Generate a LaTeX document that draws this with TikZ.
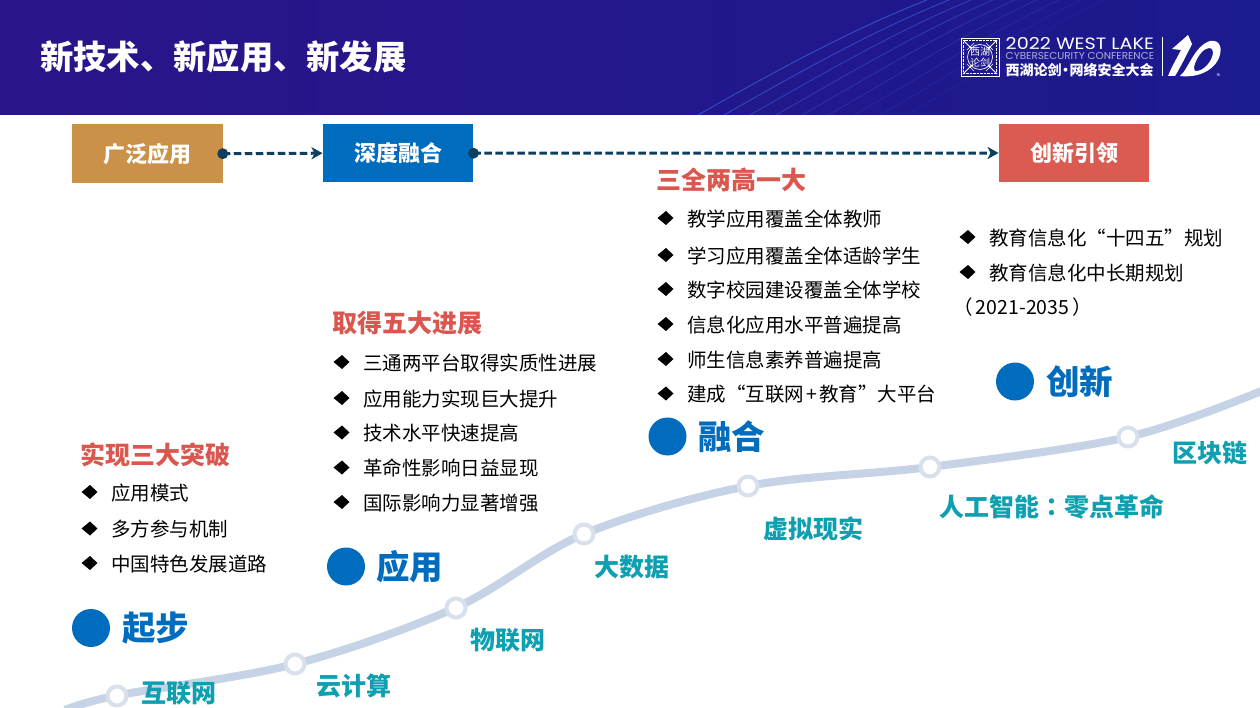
\documentclass[tikz,border=0pt]{standalone}
\usepackage{fontspec}
\usetikzlibrary{arrows.meta,shadings}
\setmainfont{Noto Sans CJK SC}
\newfontfamily\tcfont{Noto Sans CJK TC}
\newfontfamily\logofont{Poppins}
\definecolor{hdrL}{HTML}{2A1489}
\definecolor{hdrR}{HTML}{1B1A8E}
\definecolor{hdrLine}{HTML}{3F5FE0}
\definecolor{conn}{HTML}{0E3F5E}
\definecolor{blueS}{HTML}{006CBD}
\definecolor{redH}{HTML}{D9574F}
\definecolor{tealT}{HTML}{0E9FB0}
\definecolor{curveC}{HTML}{C6D2E5}
\definecolor{ringC}{HTML}{D8E0EC}
\definecolor{ochre}{HTML}{CC9148}
\definecolor{redB}{HTML}{DA5B52}
\tikzset{
 x=1pt,y=-1pt,
 stagebox/.style={minimum width=150.5pt,minimum height=58.5pt,inner sep=0,text=white,font=\fontsize{22}{24}\selectfont\bfseries},
 flow/.style={conn,line width=3pt,dash pattern=on 7.5pt off 3.5pt,-{Stealth[length=11pt,width=12pt,conn,inset=3pt]}},
 flowdot/.style={circle,fill=conn,minimum size=11pt,inner sep=0},
 heading/.style={anchor=west,inner sep=0,text=redH,font=\fontsize{25}{27}\selectfont\bfseries},
 bullet/.style={anchor=west,inner sep=0,text=black,font=\fontsize{19.5}{22}\selectfont},
 dot/.style={circle,fill=blueS,minimum size=38pt,inner sep=0},
 stagelabel/.style={anchor=west,inner sep=0,text=blueS,font=\fontsize{33.5}{36}\selectfont\bfseries},
 tech/.style={anchor=west,inner sep=0,text=tealT,font=\fontsize{25}{27}\selectfont\bfseries},
 ring/.style={circle,fill=white,draw=ringC,line width=4pt,minimum size=19pt,inner sep=0},
 logotext/.style={anchor=west,inner sep=0,text=white},
}
\newcommand{\bul}[3]{\fill (#1-8.5,#2) -- (#1,#2-7) -- (#1+7.5,#2) -- (#1,#2+7) -- cycle;
 \node[bullet] at (#1+21,#2+.8) {#3};}
\begin{document}
\begin{tikzpicture}
\useasboundingbox (0,0) rectangle (1260,708);
\fill[white] (0,0) rectangle (1260,708);
% header
\shade[left color=hdrL,right color=hdrR] (0,0) rectangle (1260,115);
\begin{scope}
\clip (0,0) rectangle (1260,115);
\foreach \i/\o in {0/.75,1/.65,2/.55,3/.45,4/.36,5/.28,6/.2,7/.14,8/.1}{
 \draw[hdrLine,opacity=\o,line width=.9pt] (698+26*\i,115) .. controls (770+26*\i,74) and (850+24*\i,30) .. (927+22*\i,0);
}
\end{scope}
\node[anchor=west,inner sep=0,text=white,font=\fontsize{33.3}{36}\selectfont\bfseries] (title) at (40,56.5) {新技术、新应用、新发展};
% logo
\draw[white,line width=.8pt] (961,38) rectangle (999,76);
\draw[white,line width=.5pt,dash pattern=on .8pt off .6pt] (963.5,40.5) rectangle (996.5,73.5);
\draw[white,line width=1pt] (963,40) -- (972,49) (997,40) -- (988,49) (963,74) -- (972,65) (997,74) -- (988,65);
\draw[white,line width=.5pt] (967,50) -- (974,43) (993,50) -- (986,43) (967,64) -- (974,71) (993,64) -- (986,71);
\draw[white,line width=.7pt] (980,57) circle (12.5);
\node[inner sep=0,text=white,font=\fontsize{10}{10}\selectfont] (seal) at (980,57) {\shortstack{西湖\\[-1pt]论剑}};
\node[logotext,xscale=1.17,font=\logofont\fontsize{16.4}{17}\selectfont] (l1) at (1005.5,43.5) {2022 WEST LAKE};
\node[logotext,xscale=1.04,text=white!65!hdrR,font=\logofont\fontsize{10}{11}\selectfont] (l2) at (1005.5,55.8) {CYBERSECURITY CONFERENCE};
\node[logotext,font=\fontsize{14}{15}\selectfont\bfseries] (l3) at (1005.5,70) {西湖论剑\hspace{-3pt}·\hspace{-3pt}网络安全大会};
\draw[white,line width=.7pt] (1162.5,37) -- (1162.5,76);
\fill[white] (1168,76) .. controls (1172,66) and (1177,58) .. (1181,50) -- (1172,49) -- (1188,35) -- (1192,44) .. controls (1186,56) and (1180,68) .. (1175,76) -- cycle;
\fill[white,even odd rule] (1180,76) .. controls (1188,70) and (1194,46) .. (1210,41) .. controls (1221,39) and (1223,50) .. (1218,60) .. controls (1212,71) and (1198,78) .. (1180,76) -- cycle
 (1195,71) .. controls (1204,72) and (1213,60) .. (1213,52) .. controls (1213,46) and (1206,47) .. (1201,53) .. controls (1196,59) and (1192,69) .. (1195,71) -- cycle;
\node[inner sep=0,text=white,font=\fontsize{4}{4}\selectfont] (th) at (1218.5,74.5) {th};
% top flow
\node[stagebox,fill=ochre] (a) at (147.3,153.7) {广泛应用};
\node[stagebox,fill=blueS] (b) at (398,153.2) {深度融合};
\node[stagebox,fill=redB] (c) at (1074,153) {创新引领};
\draw[flow] (a.east) -- (b.west);
\draw[flow] (b.east) -- (c.west);
\node[flowdot] (ad) at (a.east) {};
\node[flowdot] (bd) at (b.east) {};
% curve
\draw[curveC,line width=8pt] plot[smooth,tension=.55] coordinates {(65,710) (117,695.5) (295,664) (456,607.5) (584,534) (748,486) (930,467) (1128,437) (1264,390)};
\node[ring] (r1) at (117,696) {};
\node[ring] (r2) at (295,664) {};
\node[ring] (r3) at (456,608) {};
\node[ring] (r4) at (584,534) {};
\node[ring] (r5) at (748,486) {};
\node[ring] (r6) at (930,467) {};
\node[ring] (r7) at (1128,437) {};
% tech labels
\node[tech] (t1) at (141.5,693.5) {互联网};
\node[tech] (t2) at (316.5,686) {云计算};
\node[tech] (t3) at (470.5,640.5) {物联网};
\node[tech] (t4) at (594,567.5) {大数据};
\node[tech] (t5) at (763.5,528.5) {虚拟现实};
\node[tech] (t6) at (939.5,507) {人工智能{\tcfont ：}零点革命};
\node[tech] (t7) at (1172.5,453) {区块链};
% stages
\node[dot] (d1) at (91,628) {};
\node[stagelabel] (s1) at (122,628.5) {起步};
\node[dot] (d2) at (346,566.5) {};
\node[stagelabel] (s2) at (376,567) {应用};
\node[dot] (d3) at (667.5,436.5) {};
\node[stagelabel] (s3) at (698,437) {融合};
\node[dot] (d4) at (1015,381.5) {};
\node[stagelabel] (s4) at (1046,382) {创新};
% lists
\node[heading] (h1) at (80.5,454.7) {实现三大突破};
\bul{90}{492}{应用模式}
\bul{90}{528.5}{多方参与机制}
\bul{90}{563}{中国特色发展道路}
\node[heading] (h2) at (332,323.2) {取得五大进展};
\bul{342}{362}{三通两平台取得实质性进展}
\bul{342}{398}{应用能力实现巨大提升}
\bul{342}{432.5}{技术水平快速提高}
\bul{342}{467.5}{革命性影响日益显现}
\bul{342}{502}{国际影响力显著增强}
\node[heading] (h3) at (656.5,180.2) {三全两高一大};
\bul{666}{218}{教学应用覆盖全体教师}
\bul{666}{255}{学习应用覆盖全体适龄学生}
\bul{666}{289}{数字校园建设覆盖全体学校}
\bul{666}{324}{信息化应用水平普遍提高}
\bul{666}{359}{师生信息素养普遍提高}
\bul{666}{393.5}{建成“互联网\hspace{2pt}+\hspace{2pt}教育”大平台}
\bul{968}{237}{教育信息化“十四五”规划}
\bul{968}{272}{教育信息化中长期规划}
\node[bullet] (y) at (953,307) {（\,2021-2035\,）};
\end{tikzpicture}
\end{document}
